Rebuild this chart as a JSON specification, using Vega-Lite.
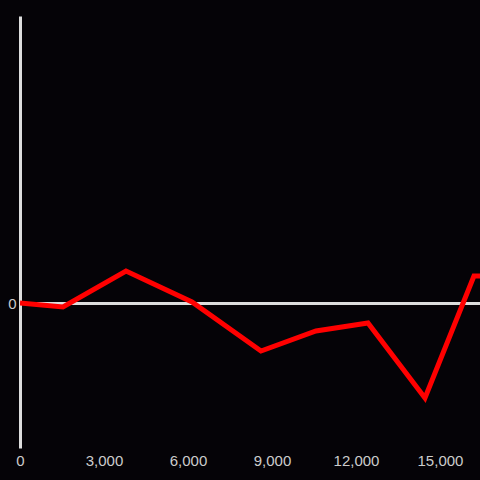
{
  "$schema": "https://vega.github.io/schema/vega-lite/v6.json",
  "width": 460,
  "height": 432,
  "autosize": {"type": "none"},
  "padding": {"left": 20, "top": 16, "right": 0, "bottom": 32},
  "background": "#050307",
  "config": {"view": {"stroke": null}, "font": "Liberation Sans"},
  "data": {"values": [
    {"x": 0, "y": 0},
    {"x": 1536, "y": -4},
    {"x": 3786, "y": 32},
    {"x": 6143, "y": 1},
    {"x": 8607, "y": -48},
    {"x": 10571, "y": -28},
    {"x": 12429, "y": -20},
    {"x": 14464, "y": -95},
    {"x": 16214, "y": 27},
    {"x": 17000, "y": 27}
  ]},
  "mark": {"type": "line", "color": "#ff0000", "strokeWidth": 5, "clip": true, "strokeJoin": "miter"},
  "encoding": {
    "x": {
      "field": "x", "type": "quantitative",
      "scale": {"domain": [0, 16430], "nice": false, "zero": false},
      "axis": {
        "title": null, "domain": false, "ticks": false, "grid": false,
        "values": [0, 3000, 6000, 9000, 12000, 15000],
        "format": ",d", "labelColor": "#cccccc", "labelFontSize": 15,
        "labelPadding": 5, "labelFlush": false, "labelOverlap": false
      }
    },
    "y": {
      "field": "y", "type": "quantitative",
      "scale": {"domain": [-145, 287], "nice": false, "zero": false},
      "axis": {
        "title": null, "domain": true, "domainColor": "#dddddd", "domainWidth": 3,
        "ticks": false, "values": [0], "grid": true, "gridColor": "#dddddd", "gridWidth": 3,
        "labelColor": "#cccccc", "labelFontSize": 15, "labelPadding": 4
      }
    }
  }
}
